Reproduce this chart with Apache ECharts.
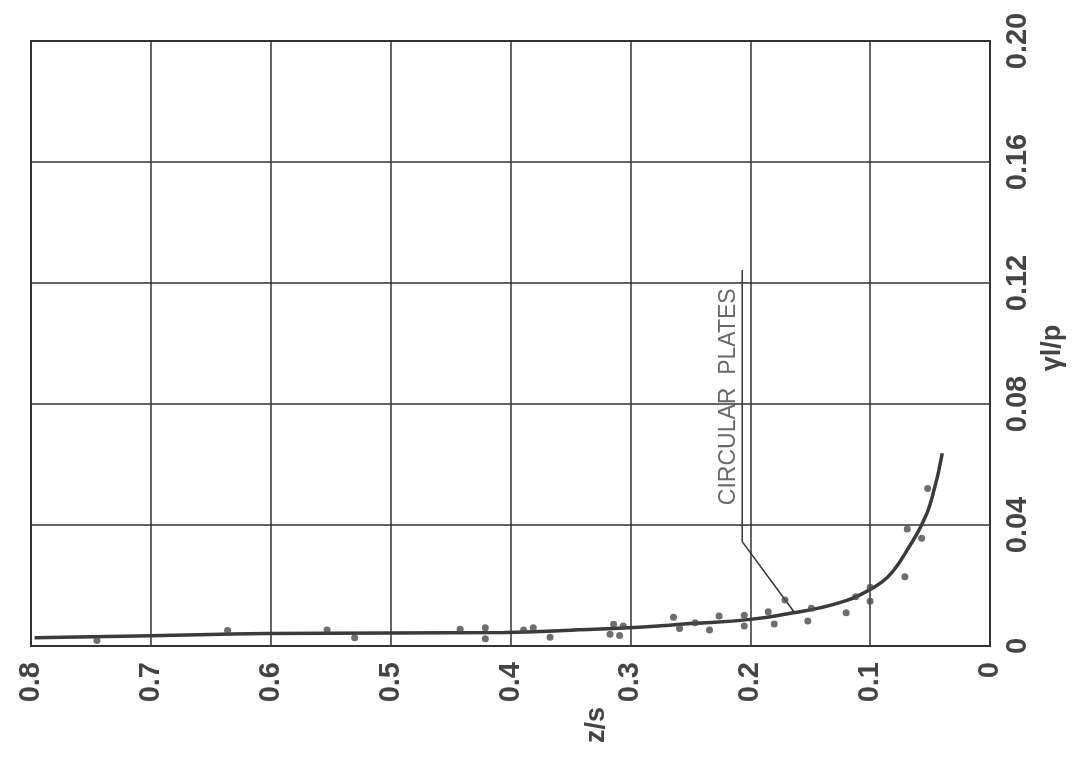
<!DOCTYPE html>
<html>
<head>
<meta charset="utf-8">
<script src="https://cdn.jsdelivr.net/npm/echarts@6/dist/echarts.min.js"></script>
<style>
html,body{margin:0;padding:0;background:#fff;}
#c{width:1076px;height:760px;}
</style>
</head>
<body>
<div id="c"></div>
<script>
// z/s tick labels (x axis, reversed) and γl/p tick labels (right axis)
var xTicks = [0, 0.1, 0.2, 0.3, 0.4, 0.5, 0.6, 0.7, 0.8];
var xTickLabels = ['0', '0.1', '0.2', '0.3', '0.4', '0.5', '0.6', '0.7', '0.8'];
var yTicks = [0, 0.04, 0.08, 0.12, 0.16, 0.20];
var yTickLabels = ['0', '0.04', '0.08', '0.12', '0.16', '0.20'];

// measured points: z/s
var pointsZ = [0.745, 0.636, 0.553, 0.530, 0.442, 0.421, 0.421, 0.389, 0.381, 0.367,
  0.317, 0.314, 0.309, 0.306, 0.264, 0.259, 0.246, 0.234, 0.226, 0.205, 0.205,
  0.185, 0.180, 0.171, 0.152, 0.149, 0.120, 0.112, 0.100, 0.100, 0.071, 0.069, 0.057, 0.052];
// measured points: γl/p
var pointsG = [0.0018, 0.0051, 0.0053, 0.0027, 0.0055, 0.0060, 0.0024, 0.0053, 0.0060, 0.0029,
  0.0039, 0.0072, 0.0035, 0.0066, 0.0095, 0.0058, 0.0077, 0.0053, 0.0099, 0.0102, 0.0066,
  0.0113, 0.0073, 0.0152, 0.0083, 0.0125, 0.0110, 0.0163, 0.0148, 0.0194, 0.0229, 0.0387, 0.0356, 0.0521];

// fitted curve: z/s and γl/p
var curveZ = [0.797, 0.70, 0.603, 0.50, 0.405, 0.35, 0.293, 0.25, 0.20, 0.164, 0.141, 0.12, 0.108, 0.09, 0.08, 0.069, 0.0565, 0.0481, 0.0398];
var curveG = [0.0027, 0.0034, 0.0041, 0.0043, 0.0045, 0.0052, 0.0062, 0.0074, 0.0088, 0.0110, 0.0127, 0.0150, 0.0170, 0.0212, 0.0252, 0.0318, 0.0405, 0.0494, 0.0637];

// annotation leader line (data coordinates)
var leaderZ = [0.2067, 0.2067, 0.1636];
var leaderG = [0.1243, 0.0345, 0.0113];
var noteText = 'CIRCULAR  PLATES';
var noteZ = 0.2177, noteG = 0.0824;

function zip(a, b) { return a.map(function (v, i) { return [v, b[i]]; }); }

var ink = '#333';
var chart = echarts.init(document.getElementById('c'));
chart.setOption({
  backgroundColor: '#ffffff',
  animation: false,
  grid: { left: 31, right: 86, top: 41, bottom: 114, show: true, borderColor: ink, borderWidth: 2, backgroundColor: 'transparent' },
  xAxis: {
    type: 'value', min: 0, max: 0.8, interval: 0.1, inverse: true,
    axisLine: { show: true, lineStyle: { color: ink, width: 2 } },
    axisTick: { show: false },
    splitLine: { show: true, lineStyle: { color: ink, width: 1.5 } },
    axisLabel: {
      rotate: 90, margin: 16, fontSize: 29, fontWeight: 'bold', color: '#444',
      fontFamily: 'Liberation Sans, Arial, sans-serif',
      formatter: function (v) { var i = xTicks.findIndex(function (t) { return Math.abs(t - v) < 1e-9; }); return i >= 0 ? xTickLabels[i] : ''; }
    }
  },
  yAxis: {
    type: 'value', position: 'right', min: 0, max: 0.2, interval: 0.04,
    axisLine: { show: true, lineStyle: { color: ink, width: 2 } },
    axisTick: { show: false },
    splitLine: { show: true, lineStyle: { color: ink, width: 1.5 } },
    axisLabel: {
      rotate: 90, margin: 13, fontSize: 29, fontWeight: 'bold', color: '#444',
      fontFamily: 'Liberation Sans, Arial, sans-serif',
      formatter: function (v) { var i = yTicks.findIndex(function (t) { return Math.abs(t - v) < 1e-9; }); return i >= 0 ? yTickLabels[i] : ''; }
    }
  },
  graphic: [
    { type: 'text', x: 597, y: 725, rotation: Math.PI / 2,
      style: { text: 'z/s', fontSize: 27, fontWeight: 'bold', fill: '#444', align: 'center', verticalAlign: 'middle', fontFamily: 'Liberation Sans, Arial, sans-serif' } },
    { type: 'text', x: 1053, y: 348, rotation: Math.PI / 2,
      style: { text: 'γl/p', fontSize: 27, fontWeight: 'bold', fill: '#444', align: 'center', verticalAlign: 'middle', fontFamily: 'Liberation Sans, Arial, sans-serif' } }
  ],
  series: [
    {
      type: 'line', data: zip(curveZ, curveG), smooth: 0.5, symbol: 'none',
      lineStyle: { color: '#3a3a3a', width: 3.5 }, z: 3
    },
    {
      type: 'scatter', data: zip(pointsZ, pointsG), symbolSize: 7,
      itemStyle: { color: '#4a4a4a' }, z: 4
    },
    {
      type: 'line', data: zip(leaderZ, leaderG), symbol: 'none', smooth: false,
      lineStyle: { color: ink, width: 1.5 }, z: 2
    },
    {
      type: 'scatter', data: [[noteZ, noteG]], symbolSize: 0, silent: true,
      label: { show: true, position: 'inside', rotate: 90, formatter: noteText,
        fontSize: 23, color: '#444', fontFamily: 'Liberation Sans, Arial, sans-serif' }
    }
  ]
});
</script>
</body>
</html>
